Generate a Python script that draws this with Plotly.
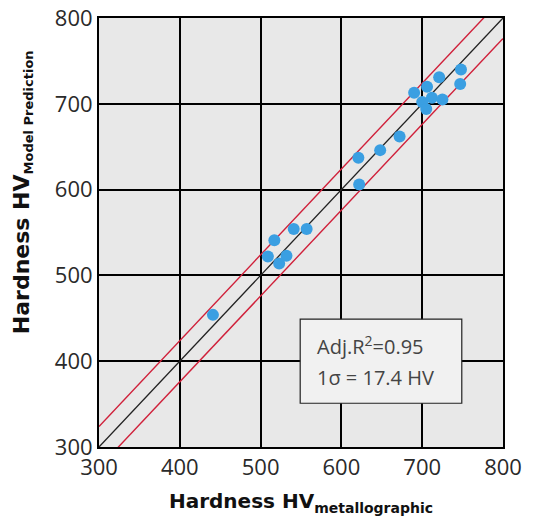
import plotly.graph_objects as go

# Data
hv_metallographic = [441, 509, 517, 523, 532, 541, 557, 621, 622, 648, 672,
                     690, 706, 721, 748, 747, 700, 705, 712, 725]
hv_model = [454, 522, 541, 514, 523, 554, 554, 637, 606, 646, 662,
            713, 720, 731, 740, 723, 702, 694, 707, 705]
ideal_x = [300, 800]
band = 24  # half-width of the red band (HV)
ticks = [300, 400, 500, 600, 700, 800]
stats_lines = ["Adj.R<sup>2</sup>=0.95", "1σ = 17.4 HV"]

fig = go.Figure()
fig.add_trace(go.Scatter(x=ideal_x, y=[v + band for v in ideal_x], mode="lines",
                         line=dict(color="#d0203a", width=1.4), hoverinfo="skip"))
fig.add_trace(go.Scatter(x=ideal_x, y=[v - band for v in ideal_x], mode="lines",
                         line=dict(color="#d0203a", width=1.4), hoverinfo="skip"))
fig.add_trace(go.Scatter(x=ideal_x, y=ideal_x, mode="lines",
                         line=dict(color="#222222", width=1.3), hoverinfo="skip"))
fig.add_trace(go.Scatter(x=hv_metallographic, y=hv_model, mode="markers",
                         marker=dict(color="#3a9fe2", size=12)))

fig.add_shape(type="rect", xref="x", yref="y", x0=549, x1=749, y0=351, y1=449,
              line=dict(color="#222222", width=1.2), fillcolor="#f1f1f1", layer="above")
for i, line in enumerate(stats_lines):
    fig.add_annotation(x=567, y=418 - i * 37, xref="x", yref="y", xanchor="left",
                       yanchor="middle", text=line, showarrow=False, align="left",
                       font=dict(family="Open Sans", size=20, color="#444444"))

# y-axis title (placed as an annotation so it can sit off-centre like the reference)
fig.add_annotation(xref="paper", yref="paper", x=0, xshift=-76, y=0.594,
                   xanchor="center", yanchor="middle", textangle=-90, showarrow=False,
                   text="<b>Hardness HV<sub><span style='font-size:13px'>Model Prediction</span></sub></b>",
                   font=dict(family="DejaVu Sans", size=22, color="#111111"))

axis_common = dict(range=[300, 800], tickvals=ticks, showgrid=True, gridcolor="#000000",
                   gridwidth=1.6, showline=True, linecolor="#000000", linewidth=2,
                   mirror=True, zeroline=False, ticks="", automargin=False,
                   ticklabeloverflow="allow",
                   tickfont=dict(family="Open Sans", size=22, color="#2a2a2a"))

fig.update_layout(
    width=552, height=525, showlegend=False,
    paper_bgcolor="white", plot_bgcolor="#e8e8e8",
    margin=dict(l=91, r=57, t=10, b=86),
    xaxis=dict(**axis_common,
               title=dict(text="<b>Hardness HV<sub>metallographic</sub></b>",
                          font=dict(family="DejaVu Sans", size=20, color="#111111"),
                          standoff=14)),
    yaxis=dict(**axis_common),
)

fig.write_html("out.html")
